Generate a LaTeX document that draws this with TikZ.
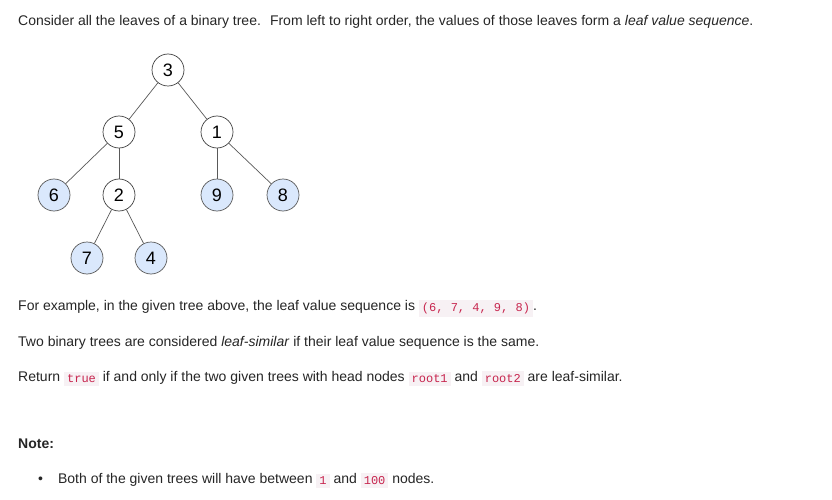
\documentclass[tikz,border=0pt]{standalone}
\usepackage{fontspec}
\setmainfont{Liberation Sans}
\setmonofont{Liberation Mono}
\usetikzlibrary{positioning}

\definecolor{leafblue}{HTML}{DAE8FC}
\definecolor{codebg}{HTML}{F7F1F4}
\definecolor{codefg}{HTML}{C7254E}
\definecolor{txt}{HTML}{262626}

\newcommand{\codeword}[1]{\raisebox{-1.5pt}{\setlength{\fboxsep}{3pt}\colorbox{codebg}{\fontsize{12}{13}\selectfont\ttfamily\color{codefg}#1}}}

\tikzset{
	tnode/.style={circle, draw=black!75, line width=0.7pt, fill=white, minimum size=32pt, inner sep=0pt, font=\fontsize{18}{19}\selectfont},
	leaf/.style={tnode, fill=leafblue, draw=black!65},
	tedge/.style={draw=black!65, line width=0.7pt},
	para/.style={anchor=base west, inner sep=0pt, text=txt, font=\fontsize{14}{16}\selectfont}
}

\begin{document}
\begin{tikzpicture}[x=1pt, y=-1pt]

	\useasboundingbox[fill=white] (0,0) rectangle (832,500);

	\node[para] (intro) at (18,26) {Consider all the leaves of a binary tree.~ From left to right order, the values of those leaves form a \textit{leaf value sequence}.};

	% the tree
	\node[tnode] (n3) at (168,70) {3};
	\node[tnode] (n5) at (119,132) {5};
	\node[tnode] (n1) at (217,132) {1};
	\node[leaf] (n6) at (54,195) {6};
	\node[tnode] (n2) at (119,195) {2};
	\node[leaf] (n9) at (217,195) {9};
	\node[leaf] (n8) at (283,195) {8};
	\node[leaf] (n7) at (87,258) {7};
	\node[leaf] (n4) at (151,258) {4};

	\draw[tedge] (n3) -- (n5);
	\draw[tedge] (n3) -- (n1);
	\draw[tedge] (n5) -- (n6);
	\draw[tedge] (n5) -- (n2);
	\draw[tedge] (n1) -- (n9);
	\draw[tedge] (n1) -- (n8);
	\draw[tedge] (n2) -- (n7);
	\draw[tedge] (n2) -- (n4);

	\node[para] (example) at (18,310) {For example, in the given tree above, the leaf value sequence is \codeword{(6, 7, 4, 9, 8)}.};
	\node[para] (similar) at (18,346) {Two binary trees are considered \textit{leaf-similar} if their leaf value sequence is the same.};
	\node[para] (ret) at (18,381) {Return \codeword{true} if and only if the two given trees with head nodes \codeword{root1} and \codeword{root2} are leaf-similar.};

	\node[para, font=\fontsize{14}{16}\selectfont\bfseries] (note) at (18,448) {Note:};
	\node[para] (bullet) at (38,483) {\textbullet\hspace{15pt}Both of the given trees will have between \codeword{1} and \codeword{100} nodes.};

\end{tikzpicture}
\end{document}
